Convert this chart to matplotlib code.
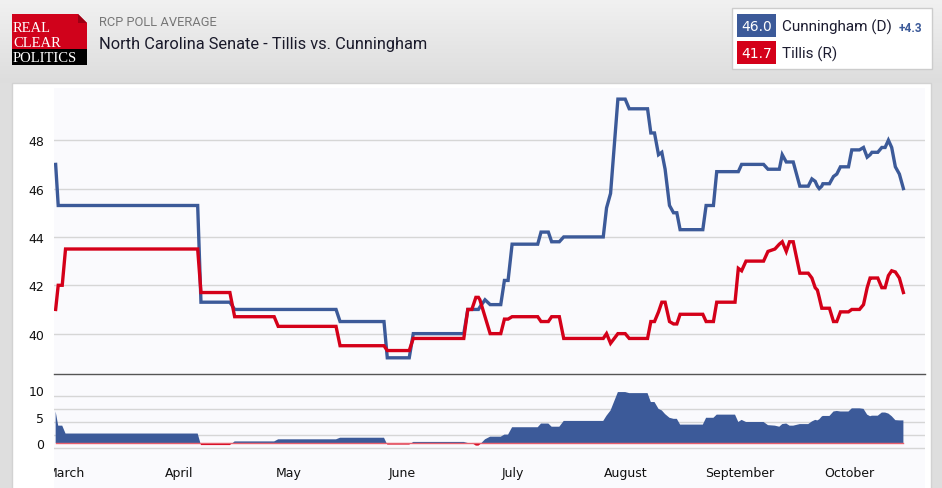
import numpy as np
import matplotlib
matplotlib.use('Agg')
import matplotlib.pyplot as plt
from matplotlib.patches import Rectangle, Polygon
from matplotlib.transforms import Bbox, TransformedBbox

# days since March 1st
days = [-2.8, -2.1, -1.0, -0.1, 36.0, 36.9, 44.8, 46.1, 56.9, 58.0, 73.8, 74.9, 86.9, 87.8,
        93.8, 94.9, 108.7, 109.8, 110.9, 112.0, 112.7, 113.1, 114.5, 115.9, 118.8, 119.8,
        120.8, 121.9, 128.9, 129.8, 131.8, 132.7, 134.8, 136.0, 146.8, 147.7, 148.8, 150.8,
        152.8, 153.9, 158.9, 159.8, 160.8, 161.9, 162.8, 163.7, 164.9, 166.0, 166.9, 167.8,
        174.0, 174.9, 176.9, 177.8, 182.8, 183.7, 184.6, 185.8, 190.6, 191.8, 193.7, 194.9,
        195.7, 196.8, 197.7, 198.7, 200.5, 202.8, 203.8, 204.7, 205.3, 205.8, 206.5, 206.8,
        208.6, 209.7, 210.6, 211.6, 213.8, 214.7, 216.8, 217.9, 218.9, 219.7, 220.2, 221.8,
        222.9, 223.8, 224.7, 225.6, 226.6, 227.7, 228.8]
cunningham = [47.0, 45.3, 45.3, 45.3, 45.3, 41.3, 41.3, 41.0, 41.0, 41.0, 41.0, 40.5, 40.5, 39.0,
              39.0, 40.0, 40.0, 41.0, 41.0, 41.0, 41.0, 41.1, 41.4, 41.2, 41.2, 42.2,
              42.2, 43.7, 43.7, 44.2, 44.2, 43.8, 43.8, 44.0, 44.0, 45.2, 45.8, 49.7,
              49.7, 49.3, 49.3, 48.3, 48.3, 47.4, 47.5, 46.8, 45.3, 45.0, 45.0, 44.3,
              44.3, 45.3, 45.3, 46.7, 46.7, 46.7, 47.0, 47.0, 47.0, 46.8, 46.8, 46.8,
              47.4, 47.1, 47.1, 47.1, 46.1, 46.1, 46.4, 46.3, 46.1, 46.0, 46.1, 46.2,
              46.2, 46.5, 46.6, 46.9, 46.9, 47.6, 47.6, 47.7, 47.3, 47.4, 47.5, 47.5,
              47.7, 47.7, 48.0, 47.7, 46.9, 46.6, 46.0]
tillis = [41.0, 42.0, 42.0, 43.5, 43.5, 41.7, 41.7, 40.7, 40.7, 40.3, 40.3, 39.5, 39.5, 39.3,
          39.3, 39.8, 39.8, 41.0, 41.0, 41.5, 41.5, 41.4, 40.7, 40.0, 40.0, 40.6,
          40.6, 40.7, 40.7, 40.5, 40.5, 40.7, 40.7, 39.8, 39.8, 40.0, 39.6, 40.0,
          40.0, 39.8, 39.8, 40.5, 40.5, 40.9, 41.3, 41.3, 40.5, 40.4, 40.4, 40.8,
          40.8, 40.5, 40.5, 41.3, 41.3, 42.7, 42.6, 43.0, 43.0, 43.4, 43.5, 43.7,
          43.8, 43.4, 43.8, 43.8, 42.5, 42.5, 42.3, 41.9, 41.8, 41.5, 41.05, 41.05,
          41.05, 40.5, 40.5, 40.9, 40.9, 41.0, 41.0, 41.2, 41.9, 42.3, 42.3, 42.3,
          41.9, 41.9, 42.4, 42.6, 42.55, 42.3, 41.7]

month_days = [0, 31, 61, 92, 122, 153, 184, 214]
month_names = ['March', 'April', 'May', 'June', 'July', 'August', 'September', 'October']
main_ticks = [40, 42, 44, 46, 48]
spread_ticks = [0, 5, 10]
spread_grid = [-1.0, 1.5, 4.0, 6.5, 9.0]

BLUE = '#3c5a99'
RED = '#d40019'
W, H = 942, 489

fig = plt.figure(figsize=(W / 100, H / 100), dpi=100)
fig.patch.set_facecolor('#dedede')

# page background in pixel coordinates
bg = fig.add_axes([0, 0, 1, 1], zorder=-10)
bg.set_xlim(0, W)
bg.set_ylim(H, 0)
bg.axis('off')
grad = np.linspace(0, 1, 100).reshape(-1, 1)
bg.imshow(grad, cmap=matplotlib.colors.LinearSegmentedColormap.from_list('g', ['#f1f1f1', '#dddddd']),
          extent=[0, W, 84, 0], aspect='auto')
bg.add_patch(Rectangle((12, 84), 919, 410, fc='white', ec='#d2d2d2', lw=1))
bg.add_patch(Rectangle((54, 89), 871, 405, fc='#fafafd', ec='none'))

# logo
bg.add_patch(Polygon([(12, 15), (78, 15), (87, 24), (87, 50), (12, 50)], closed=True, fc='#d0021b', ec='none'))
bg.add_patch(Polygon([(78, 15), (78, 24), (87, 24)], closed=True, fc='#9c0014', ec='none'))
bg.add_patch(Rectangle((12, 50), 75, 16, fc='black', ec='none'))
for txt, yy in [('REAL', 29), ('CLEAR', 43.5), ('POLITICS', 58.5)]:
    bg.text(13, yy, txt, color='white', fontsize=10.5, family='Liberation Serif', va='center', ha='left')

bg.text(99, 23, 'RCP POLL AVERAGE', color='#777777', fontsize=9.3, family='Roboto', va='center')
bg.text(99, 45, 'North Carolina Senate - Tillis vs. Cunningham', color='#1a1a2a', fontsize=11.8,
        family='Roboto', va='center')

# legend box
bg.add_patch(Rectangle((732, 9), 200, 61, fc='white', ec='#cccccc', lw=1))
bg.add_patch(Rectangle((737, 15), 39, 23, fc=BLUE, ec='none'))
bg.add_patch(Rectangle((737, 42), 39, 23, fc=RED, ec='none'))
bg.text(756.5, 27, '%.1f' % cunningham[-1], color='white', fontsize=10, family='DejaVu Sans', ha='center', va='center')
bg.text(756.5, 54, '%.1f' % tillis[-1], color='white', fontsize=10, family='DejaVu Sans', ha='center', va='center')
bg.text(782, 27, 'Cunningham (D)', color='#1c1c30', fontsize=11, family='Roboto', va='center')
bg.text(782, 54, 'Tillis (R)', color='#1c1c30', fontsize=11, family='Roboto', va='center')
bg.text(899, 28, '+%.1f' % (cunningham[-1] - tillis[-1]), color=BLUE, fontsize=8.5, family='Roboto',
        fontweight='bold', va='center')

x0, x1 = -3.25, 234.7

# main chart
ax1 = fig.add_axes([54 / W, 1 - 375 / H, 871 / W, (375 - 89) / H])
ax1.set_facecolor('none')
ax1.plot(days, cunningham, color=BLUE, lw=2.4, solid_joinstyle='miter')
ax1.plot(days, tillis, color=RED, lw=2.4, solid_joinstyle='miter')
ax1.set_xlim(x0, x1)
ax1.set_ylim(38.33, 50.16)
ax1.set_yticks(main_ticks)
ax1.set_xticks([])
ax1.grid(axis='y', color='#d6d6d6', lw=1)
ax1.set_axisbelow(True)
for s in ['top', 'left', 'right']:
    ax1.spines[s].set_visible(False)
ax1.spines['bottom'].set_color('#555555')
ax1.spines['bottom'].set_linewidth(1)
ax1.tick_params(axis='y', length=0, pad=7, labelsize=9, labelcolor='#111111')

# spread chart
spread = np.array(cunningham) - np.array(tillis)
ax2 = fig.add_axes([54 / W, 1 - 456 / H, 871 / W, (456 - 375) / H])
ax2.set_facecolor('none')
for g in spread_grid:
    ax2.axhline(g, color='#d6d6d6', lw=1, zorder=0)
ax2.fill_between(days, spread, 0, where=spread >= 0, interpolate=True, color=BLUE, lw=0)
ax2.fill_between(days, spread, 0, where=spread <= 0, interpolate=True, color=RED, lw=0)
ax2.plot(days, np.zeros(len(days)), color='#e8606e', lw=1)
ax2.set_xlim(x0, x1)
ax2.set_ylim(-2.29, 13.14)
ax2.set_yticks(spread_ticks)
ax2.set_xticks(month_days)
ax2.set_xticklabels(month_names)
for s in ax2.spines.values():
    s.set_visible(False)
ax2.tick_params(axis='y', length=0, pad=7, labelsize=9, labelcolor='#111111')
ax2.tick_params(axis='x', length=0, pad=8, labelsize=9, labelcolor='#111111')

clip = TransformedBbox(Bbox([[54, 0], [925, H]]), bg.transData)
for lbl in ax2.get_xticklabels():
    lbl.set_clip_box(clip)
    lbl.set_clip_on(True)

fig.savefig('out.png', dpi=100)
